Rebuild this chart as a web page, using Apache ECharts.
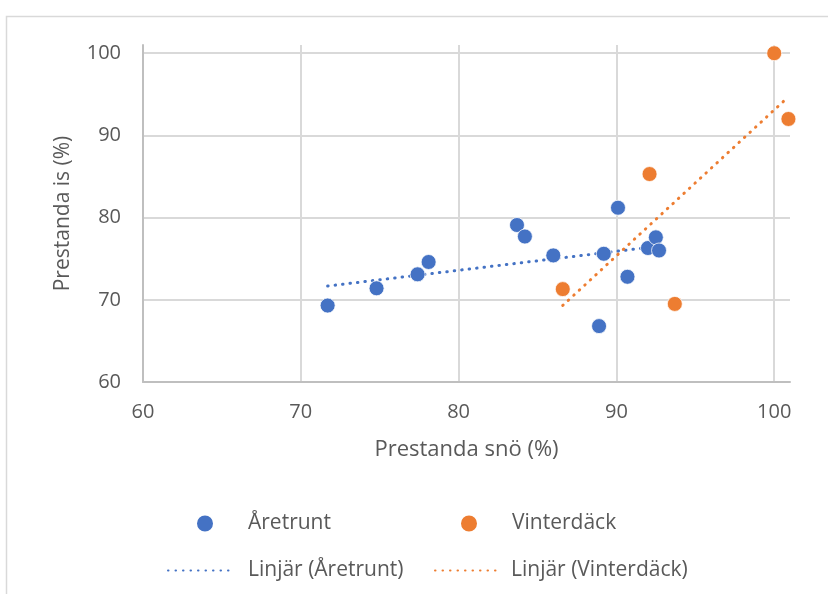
<!DOCTYPE html>
<html>
<head>
<meta charset="utf-8">
<style>
  html, body { margin: 0; padding: 0; background: #ffffff; }
  #chart { width: 828px; height: 594px; }
</style>
<script src="https://cdn.jsdelivr.net/npm/echarts@6/dist/echarts.min.js"></script>
</head>
<body>
<div id="chart"></div>
<script>
// Tyre test results: snow performance vs ice performance (%)
const seriesNames = ['Åretrunt', 'Vinterdäck'];
const trendNames = ['Linjär (Åretrunt)', 'Linjär (Vinterdäck)'];

const aretruntSno = [71.7, 74.8, 77.4, 78.1, 83.7, 84.2, 86.0, 88.9, 89.2, 90.1, 90.7, 92.0, 92.5, 92.7];
const aretruntIs  = [69.3, 71.4, 73.1, 74.6, 79.1, 77.7, 75.4, 66.8, 75.6, 81.2, 72.8, 76.3, 77.6, 76.0];

const vinterSno = [86.6, 92.1, 93.7, 100.0, 100.9];
const vinterIs  = [71.3, 85.3, 69.5, 100.0, 92.0];

const xTicks = [60, 70, 80, 90, 100];
const yTicks = [60, 70, 80, 90, 100];

const COLORS = ['#4472C4', '#ED7D31'];
const FONT = "'Open Sans', 'Noto Sans', sans-serif";
const TEXT = '#595959';

function pairs(xs, ys) { return xs.map((x, i) => [x, ys[i]]); }

// Least-squares linear trend across the x-range of the series
function linearTrend(xs, ys) {
  const n = xs.length;
  const mx = xs.reduce((a, b) => a + b, 0) / n;
  const my = ys.reduce((a, b) => a + b, 0) / n;
  let sxy = 0, sxx = 0;
  for (let i = 0; i < n; i++) { sxy += (xs[i] - mx) * (ys[i] - my); sxx += (xs[i] - mx) ** 2; }
  const k = sxy / sxx, m = my - k * mx;
  const x0 = Math.min(...xs), x1 = Math.max(...xs);
  return [[x0, k * x0 + m], [x1, k * x1 + m]];
}

const dotted = (color) => ({ color: color, width: 3, type: [0.5, 7], cap: 'round' });

const chart = echarts.init(document.getElementById('chart'), null, { renderer: 'canvas' });

// One legend block per entry so the two-column layout can be placed freely
function legendAt(name, left, top, isTrend, gap) {
  const item = { name: name };
  if (isTrend) item.itemStyle = { opacity: 0 };   // show only the dotted line
  return {
    data: [item],
    left: left, top: top,
    itemWidth: 66, itemHeight: isTrend ? 14 : 18, itemGap: 0,
    padding: 0,
    selectedMode: false,
    textStyle: { fontFamily: FONT, fontSize: 21, color: TEXT, padding: [0, 0, 0, gap] }
  };
}

chart.setOption({
  animation: false,
  backgroundColor: '#ffffff',
  graphic: [{
    type: 'rect', silent: true, z: -1,
    shape: { x: 6.5, y: 16.5, width: 900, height: 700 },
    style: { fill: 'none', stroke: '#d9d9d9', lineWidth: 1.5 }
  }],
  grid: { left: 143, right: 38, top: 45, bottom: 212, containLabel: false },
  xAxis: {
    type: 'value', min: 60, max: 101, interval: 10,
    name: 'Prestanda snö (%)', nameLocation: 'middle', nameGap: 57,
    nameTextStyle: { fontFamily: FONT, fontSize: 22, color: TEXT },
    axisLine: { show: true, lineStyle: { color: '#bfbfbf', width: 2 } },
    axisTick: { show: false },
    axisLabel: {
      fontFamily: FONT, fontSize: 20, color: TEXT, margin: 20,
      showMaxLabel: false,
      formatter: (v) => xTicks.includes(v) ? String(v) : ''
    },
    splitLine: { show: true, showMinLine: false, showMaxLine: false, lineStyle: { color: '#d9d9d9', width: 2 } }
  },
  yAxis: {
    type: 'value', min: 60, max: 101, interval: 10,
    name: 'Prestanda is (%)', nameLocation: 'middle', nameGap: 69, nameRotate: 90,
    nameTextStyle: { fontFamily: FONT, fontSize: 21, color: TEXT },
    axisLine: { show: true, lineStyle: { color: '#bfbfbf', width: 2 } },
    axisTick: { show: false },
    axisLabel: {
      fontFamily: FONT, fontSize: 20, color: TEXT, margin: 22,
      showMaxLabel: false,
      formatter: (v) => yTicks.includes(v) ? String(v) : ''
    },
    splitLine: { show: true, showMinLine: false, showMaxLine: false, lineStyle: { color: '#d9d9d9', width: 2 } }
  },
  legend: [
    legendAt(seriesNames[0], 195, 513, false, 5),
    legendAt(seriesNames[1], 459, 513, false, 5),
    legendAt(trendNames[0], 167, 560, true, 9),
    legendAt(trendNames[1], 434, 560, true, 5)
  ],
  series: [
    {
      name: trendNames[0], type: 'line', data: linearTrend(aretruntSno, aretruntIs),
      showSymbol: false, symbol: 'none', lineStyle: dotted(COLORS[0]), itemStyle: { color: COLORS[0] },
      z: 3, silent: true
    },
    {
      name: trendNames[1], type: 'line', data: linearTrend(vinterSno, vinterIs),
      showSymbol: false, symbol: 'none', lineStyle: dotted(COLORS[1]), itemStyle: { color: COLORS[1] },
      z: 3, silent: true
    },
    {
      name: seriesNames[0], type: 'scatter', data: pairs(aretruntSno, aretruntIs),
      symbolSize: 15, clip: false,
      itemStyle: { color: COLORS[0], borderColor: '#ffffff', borderWidth: 0.75, opacity: 1 },
      z: 4
    },
    {
      name: seriesNames[1], type: 'scatter', data: pairs(vinterSno, vinterIs),
      symbolSize: 15, clip: false,
      itemStyle: { color: COLORS[1], borderColor: '#ffffff', borderWidth: 0.75, opacity: 1 },
      z: 4
    }
  ]
});
</script>
</body>
</html>
